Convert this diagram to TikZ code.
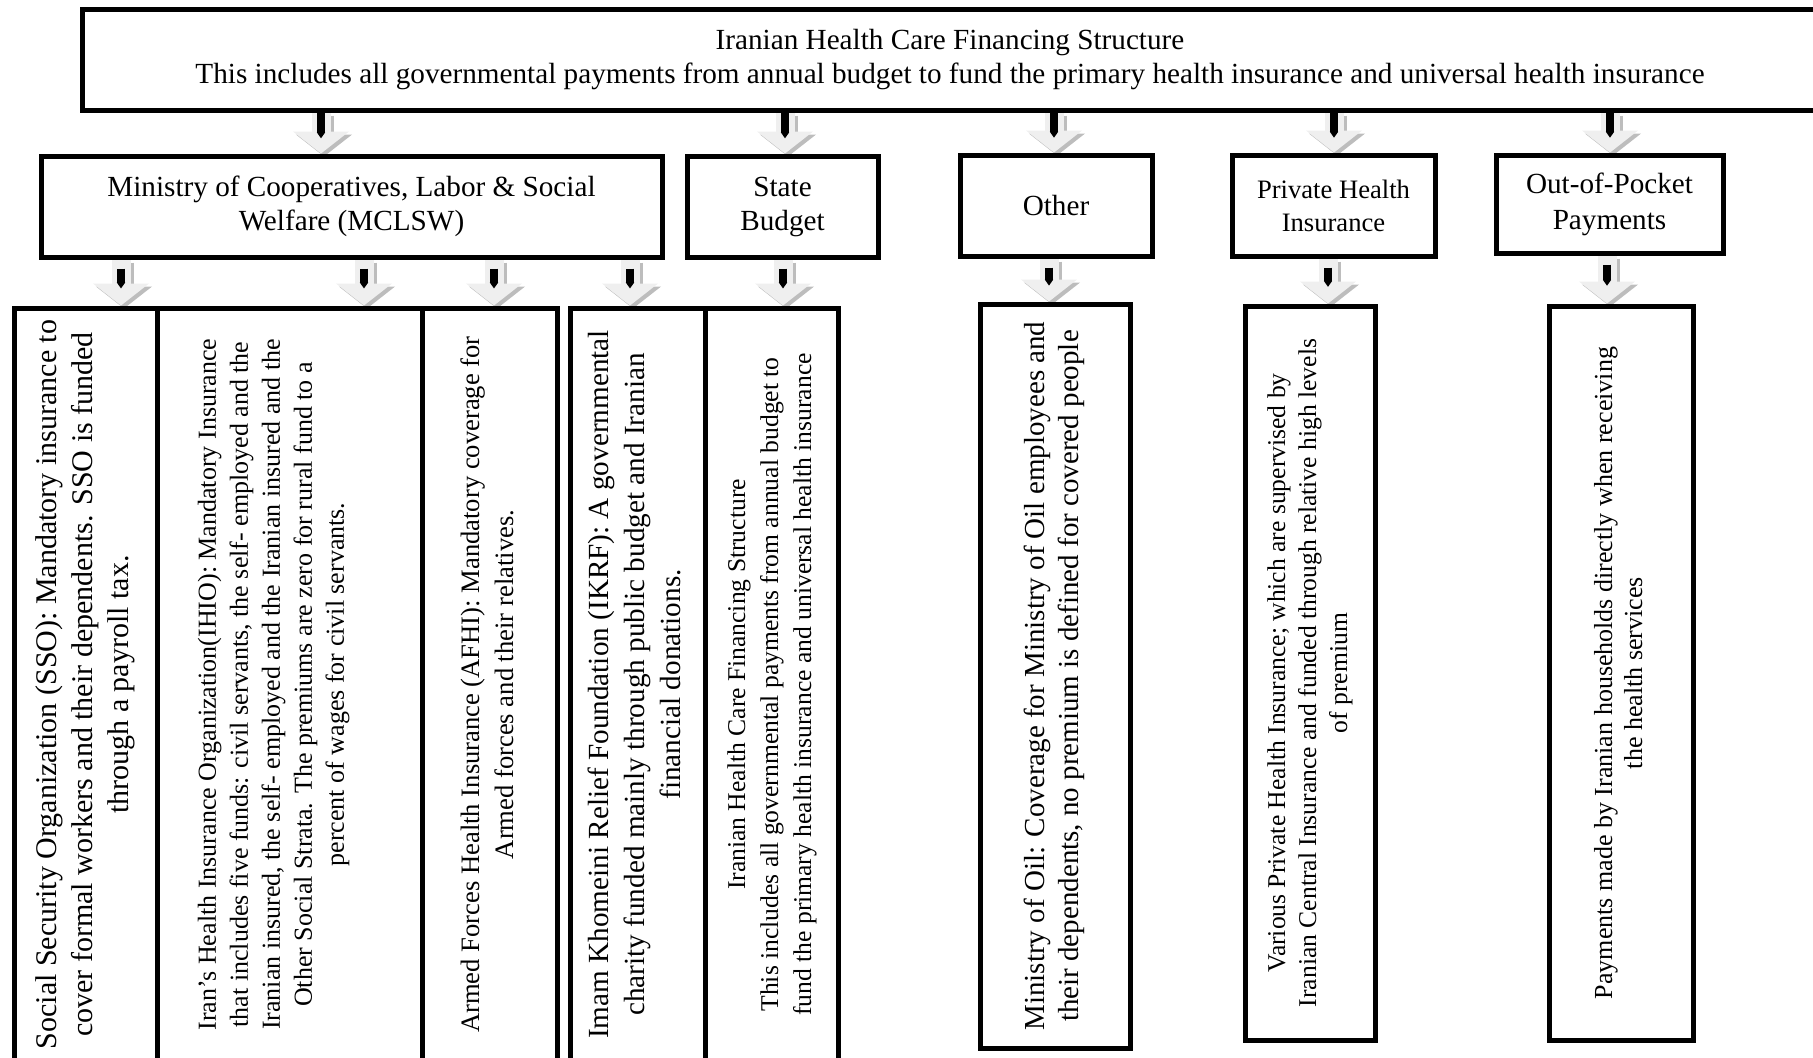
\documentclass[tikz,border=0pt]{standalone}
\usepackage{fontspec}
\setmainfont{Liberation Serif}
\usetikzlibrary{arrows.meta,calc,backgrounds}
\definecolor{arrbody}{HTML}{EFEFEF}
\definecolor{arrshadow}{HTML}{BDBDBD}
\tikzset{
  box/.style={draw=black, line width=2.5pt, fill=white, inner sep=0pt, align=center},
  fatbody/.style={line width=9.5pt, draw=arrbody, -{Triangle[width=27.5pt,length=11pt]}},
  fatshadow/.style={line width=9.5pt, draw=arrshadow, -{Triangle[width=27.5pt,length=11pt]}},
  blackbar/.style={line width=4pt, draw=black, -{Triangle[width=4pt,length=3pt]}},
  hfont/.style={font=\fontsize{14.6}{17}\selectfont},
}
\newcommand\vtext[3]{\rotatebox{90}{\fontsize{#1}{#2}\selectfont\begin{tabular}{@{}c@{}}#3\end{tabular}}}
\newcommand\fatarrow[4]{%
  \coordinate (fa-x) at (#3,0);
  \coordinate (fa-s) at (#1.south -| fa-x);
  \coordinate (fa-e) at (#2.north -| fa-x);
  \draw[fatshadow] ([shift={(3,3)}]fa-s) -- ([shift={(3,3)}]fa-e);
  \draw[fatbody] (fa-s) -- (fa-e);
  \draw[blackbar] ($(fa-s)+(0,#4)$) -- ($(fa-s)!0.63!(fa-e)$);
}
\begin{document}
\begin{tikzpicture}[x=0.5pt,y=-0.5pt]
\useasboundingbox (0,0) rectangle (1813,1057);
% top
\node[box, hfont, minimum width=868pt, minimum height=50.5pt] (top) at (950,59.5)
  {Iranian Health Care Financing Structure\\This includes all governmental payments from annual budget to fund the primary health insurance and universal health insurance};
% row 2
\node[box, hfont, minimum width=310.5pt, minimum height=50.5pt] (mclsw) at (351.5,206.5)
  {Ministry of Cooperatives, Labor \& Social\\Welfare (MCLSW)};
\node[box, hfont, minimum width=95.5pt, minimum height=50.5pt] (sb) at (782.5,206.5)
  {State\\Budget};
\node[box, hfont, minimum width=96pt, minimum height=50.5pt] (other) at (1056,205.5)
  {Other};
\node[box, font=\fontsize{13.3}{16.5}\selectfont, minimum width=101.5pt, minimum height=50.5pt] (phi) at (1333.5,205.5)
  {Private Health\\Insurance};
\node[box, font=\fontsize{14.6}{18}\selectfont, minimum width=113.5pt, minimum height=49pt] (oop) at (1609.5,204)
  {Out-of-Pocket\\Payments};
% row 3
\node[box, minimum width=71.5pt, minimum height=376.5pt] (sso) at (85.5,684.5)
  {\vtext{15}{18}{Social Security Organization (SSO): Mandatory insurance to\\cover formal workers and their dependents. SSO is funded\\through a payroll tax.}};
\node[box, minimum width=132.5pt, minimum height=376.5pt] (ihio) at (289.5,684.5)
  {\vtext{13}{16}{Iran’s Health Insurance Organization(IHIO): Mandatory Insurance\\that includes five funds: civil servants, the self- employed and the\\Iranian insured, the self- employed and the Iranian insured and the\\Other Social Strata. The premiums are zero for rural fund to a\\percent of wages for civil servants.\\\mbox{}}};
\node[box, minimum width=67.5pt, minimum height=376.5pt] (afhi) at (489.5,684.5)
  {\vtext{13.3}{17}{Armed Forces Health Insurance (AFHI): Mandatory coverage for\\Armed forces and their relatives.}};
\node[box, minimum width=67.5pt, minimum height=376.5pt] (ikrf) at (637.5,684.5)
  {\vtext{14.6}{18}{Imam Khomeini Relief Foundation (IKRF): A governmental\\charity funded mainly through public budget and Iranian\\financial donations.}};
\node[box, minimum width=66.5pt, minimum height=376.5pt] (sbd) at (771.5,684.5)
  {\vtext{12.8}{16.5}{Iranian Health Care Financing Structure\\This includes all governmental payments from annual budget to\\fund the primary health insurance and universal health insurance}};
\node[box, minimum width=75pt, minimum height=372pt] (oil) at (1055,676)
  {\vtext{14.5}{17}{Ministry of Oil: Coverage for Ministry of Oil employees and\\their dependents, no premium is defined for covered people}};
\node[box, minimum width=65pt, minimum height=367pt] (various) at (1310,673)
  {\vtext{12.8}{15.5}{Various Private Health Insurance; which are supervised by\\Iranian Central Insurance and funded through relative high levels\\of premium}};
\node[box, minimum width=72pt, minimum height=367pt] (pay) at (1621,673)
  {\vtext{13}{15}{Payments made by Iranian households directly when receiving\\the health services}};
% arrows
\begin{scope}[on background layer]
\fatarrow{top}{mclsw}{321}{0}
\fatarrow{top}{sb}{785}{0}
\fatarrow{top}{other}{1054}{0}
\fatarrow{top}{phi}{1334}{0}
\fatarrow{top}{oop}{1610}{0}
\fatarrow{mclsw}{sso}{121}{9}
\fatarrow{mclsw}{ihio}{364}{9}
\fatarrow{mclsw}{afhi}{494}{9}
\fatarrow{mclsw}{ikrf}{630}{9}
\fatarrow{sb}{sbd}{783}{9}
\fatarrow{other}{oil}{1049}{9}
\fatarrow{phi}{various}{1328}{9}
\fatarrow{oop}{pay}{1607}{9}
\end{scope}
\end{tikzpicture}
\end{document}
